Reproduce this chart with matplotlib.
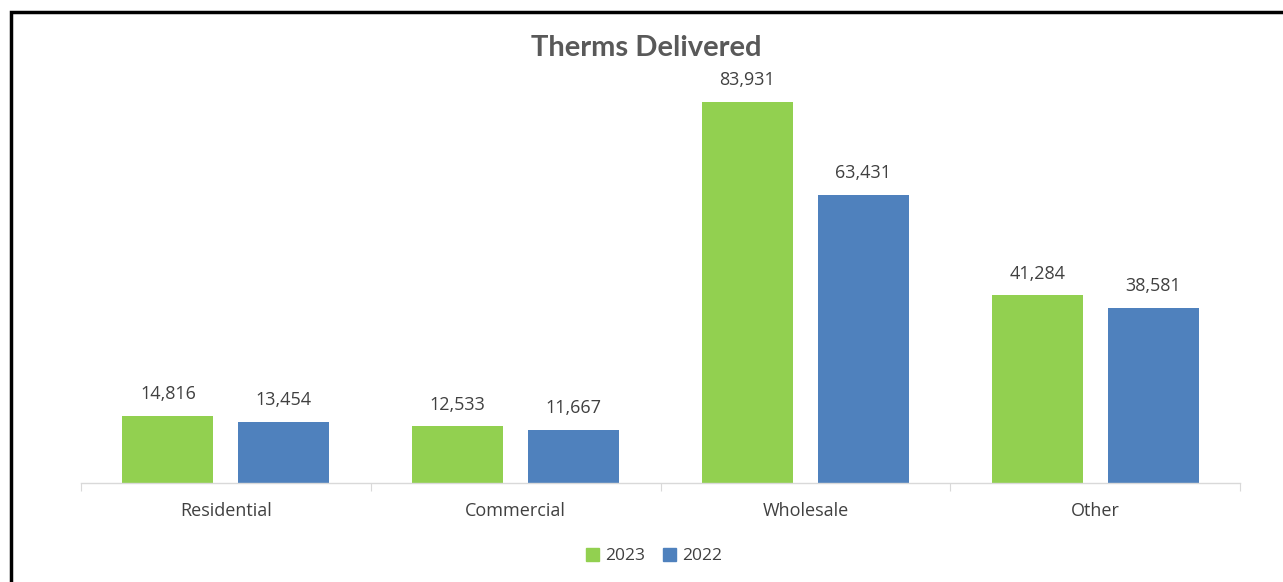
import matplotlib.pyplot as plt
import matplotlib.patches as mpatches
import numpy as np

categories = ['Residential', 'Commercial', 'Wholesale', 'Other']
values_2023 = [14816, 12533, 83931, 41284]
values_2022 = [13454, 11667, 63431, 38581]

green = '#92D050'
blue = '#4F81BD'
text_color = '#404040'

plt.rcParams['font.family'] = ['Open Sans', 'DejaVu Sans']

fig = plt.figure(figsize=(12.83, 5.82), dpi=100)
ax = fig.add_axes([81 / 1283, 99 / 582, (1240 - 81) / 1283, (483 - 74) / 582])

x = np.arange(len(categories))
w = 0.314
b1 = ax.bar(x - 0.2, values_2023, w, color=green, label='2023')
b2 = ax.bar(x + 0.2, values_2022, w, color=blue, label='2022')

# data labels
for bars in (b1, b2):
    for r in bars:
        ax.annotate(f'{int(r.get_height()):,}', (r.get_x() + r.get_width() / 2, r.get_height()),
                    xytext=(0, 9), textcoords='offset points', ha='center', va='bottom',
                    fontsize=13, color=text_color)

ax.set_xlim(-0.5, len(categories) - 0.5)
ax.set_ylim(0, 90000)
ax.set_yticks([])
for s in ['top', 'right', 'left']:
    ax.spines[s].set_visible(False)
ax.spines['bottom'].set_color('#D9D9D9')
ax.spines['bottom'].set_linewidth(1)

# category separators as ticks, labels centred
ax.set_xticks(np.arange(len(categories) + 1) - 0.5)
ax.set_xticklabels([])
ax.set_xticks(x, minor=True)
ax.set_xticklabels(categories, minor=True)
ax.tick_params(axis='x', which='major', length=6, color='#D9D9D9')
ax.tick_params(axis='x', which='minor', length=0, pad=14, labelsize=13, labelcolor=text_color)

fig.text(646 / 1283, 1 - 48 / 582, 'Therms Delivered', ha='center', va='center',
         fontsize=21, fontweight='bold', color='#595959', family=['Lato', 'DejaVu Sans'])

fig.legend(handles=[mpatches.Patch(color=green, label='2023'), mpatches.Patch(color=blue, label='2022')],
           loc='center', bbox_to_anchor=(654 / 1283, 1 - 556 / 582), ncol=2, frameon=False,
           fontsize=12.5, labelcolor=text_color, handlelength=0.75, handleheight=0.75,
           handletextpad=0.35, columnspacing=1.0)

# outer black frame (cut off on right and bottom)
fig.patches.append(mpatches.Rectangle((11 / 1283, -0.1), 1.2, 1 - 11.5 / 582 + 0.1,
                                      transform=fig.transFigure, fill=False,
                                      edgecolor='black', linewidth=2.5))

plt.savefig('out.png', dpi=100)
